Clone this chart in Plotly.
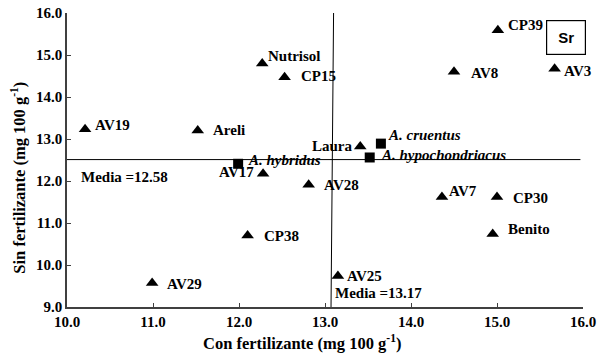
import plotly.graph_objects as go

# Data
names = ["Nutrisol", "CP15", "AV19", "Areli", "AV17", "AV29", "CP38", "AV28", "AV25",
         "AV7", "CP30", "Benito", "Laura", "CP39", "AV8", "AV3"]
x_con = [12.27, 12.53, 10.21, 11.52, 12.28, 10.99, 12.10, 12.81, 13.15,
         14.36, 15.00, 14.95, 13.41, 15.01, 14.50, 15.67]
y_sin = [14.80, 14.47, 13.23, 13.20, 12.17, 9.57, 10.70, 11.91, 9.74,
         11.62, 11.62, 10.74, 12.82, 15.59, 14.60, 14.67]

species = ["A. hybridus", "A. cruentus", "A. hypochondriacus"]
x_sp = [11.99, 13.65, 13.52]
y_sp = [12.41, 12.89, 12.56]

mean_x = 13.17   # reported mean (Con fertilizante)
mean_y = 12.58   # reported mean (Sin fertilizante)
mean_x_drawn = 13.07
mean_y_drawn = 12.51

x_ticks = [10, 11, 12, 13, 14, 15, 16]
y_ticks = [9, 10, 11, 12, 13, 14, 15, 16]

x_title = "Con fertilizante (mg 100 g<sup>-1</sup>)"
y_title = "Sin fertilizante (mg 100 g<sup>-1</sup>)"

# Label offsets (pixels): (anchor, xshift, yshift)
label_off = {
    "Nutrisol": ("left", 4, 7), "CP15": ("left", 14, 1), "AV19": ("left", 8, 4),
    "Areli": ("left", 13, 1), "AV17": ("right", -7, 2), "AV29": ("left", 13, -1),
    "CP38": ("left", 14, 0), "AV28": ("left", 13, 0), "AV25": ("left", 7, 0),
    "AV7": ("left", 5, 6), "CP30": ("left", 14, -1), "Benito": ("left", 13, 5),
    "Laura": ("right", -5, 1), "CP39": ("left", 8, 5), "AV8": ("left", 15, -1),
    "AV3": ("left", 7, -2),
}
sp_off = {"A. hybridus": (8, 4), "A. cruentus": (5, 9), "A. hypochondriacus": (9, 2)}

serif = "Liberation Serif"
lab_size = 15

fig = go.Figure()

# mean lines
fig.add_trace(go.Scatter(x=[10, 15.97], y=[mean_y_drawn, mean_y_drawn], mode="lines",
                         line=dict(color="black", width=1), hoverinfo="skip", showlegend=False))
fig.add_trace(go.Scatter(x=[mean_x_drawn, mean_x_drawn + 0.03], y=[9, 16.07], mode="lines",
                         line=dict(color="black", width=1), hoverinfo="skip", showlegend=False,
                         cliponaxis=False))

fig.add_trace(go.Scatter(x=x_con, y=y_sin, mode="markers",
                         marker=dict(symbol="triangle-up", size=11, color="black"),
                         showlegend=False))
fig.add_trace(go.Scatter(x=x_sp, y=y_sp, mode="markers",
                         marker=dict(symbol="square", size=10, color="black"),
                         showlegend=False))

ann = []
for n, xv, yv in zip(names, x_con, y_sin):
    a, dx, dy = label_off[n]
    ann.append(dict(x=xv, y=yv, text="<b>%s</b>" % n, showarrow=False, xanchor=a,
                    yanchor="middle", xshift=dx, yshift=dy,
                    font=dict(family=serif, size=lab_size, color="black")))
for n, xv, yv in zip(species, x_sp, y_sp):
    dx, dy = sp_off[n]
    ann.append(dict(x=xv, y=yv, text="<b><i>%s</i></b>" % n, showarrow=False, xanchor="left",
                    yanchor="middle", xshift=dx, yshift=dy,
                    font=dict(family=serif, size=lab_size, color="black")))
ann.append(dict(x=10.14, y=12.10, text="<b>Media =%.2f</b>" % mean_y, showarrow=False,
                xanchor="left", yanchor="middle", font=dict(family=serif, size=lab_size, color="black")))
ann.append(dict(x=13.09, y=9.33, text="<b>Media =%.2f</b>" % mean_x, showarrow=False,
                xanchor="left", yanchor="middle", font=dict(family=serif, size=lab_size, color="black")))
ann.append(dict(x=15.80, y=15.41, text="<b>Sr</b>", showarrow=False, xanchor="center",
                yanchor="middle", width=38, height=33, bordercolor="black", borderwidth=1.2,
                borderpad=0, font=dict(family="Liberation Sans", size=15, color="black")))
# axis titles
ann.append(dict(x=0.455, y=-0.122, xref="paper", yref="paper", xanchor="center", yanchor="middle",
                showarrow=False, text="<b>%s</b>" % x_title,
                font=dict(family=serif, size=16.5, color="black")))
ann.append(dict(x=-0.093, y=0.44, xref="paper", yref="paper", xanchor="center", yanchor="middle",
                showarrow=False, textangle=-90, text="<b>%s</b>" % y_title,
                font=dict(family=serif, size=16.5, color="black")))

fig.update_layout(
    width=597, height=353,
    margin=dict(l=67, r=14, t=13, b=46),
    paper_bgcolor="white", plot_bgcolor="white",
    annotations=ann,
    xaxis=dict(range=[10, 16], tickvals=x_ticks, tickformat=".1f", showgrid=False, zeroline=False,
               automargin=False,
               showline=True, linecolor="#404040", linewidth=1.5, ticks="inside", ticklen=4,
               tickcolor="#404040",
               tickfont=dict(family=serif, size=15, color="black", weight="bold")),
    yaxis=dict(range=[9, 16], tickvals=y_ticks, tickformat=".1f", showgrid=False, zeroline=False,
               automargin=False,
               showline=True, linecolor="#404040", linewidth=1.5, ticks="inside", ticklen=4,
               tickcolor="#404040",
               tickfont=dict(family=serif, size=15, color="black", weight="bold")),
)

fig.write_html("out.html")
